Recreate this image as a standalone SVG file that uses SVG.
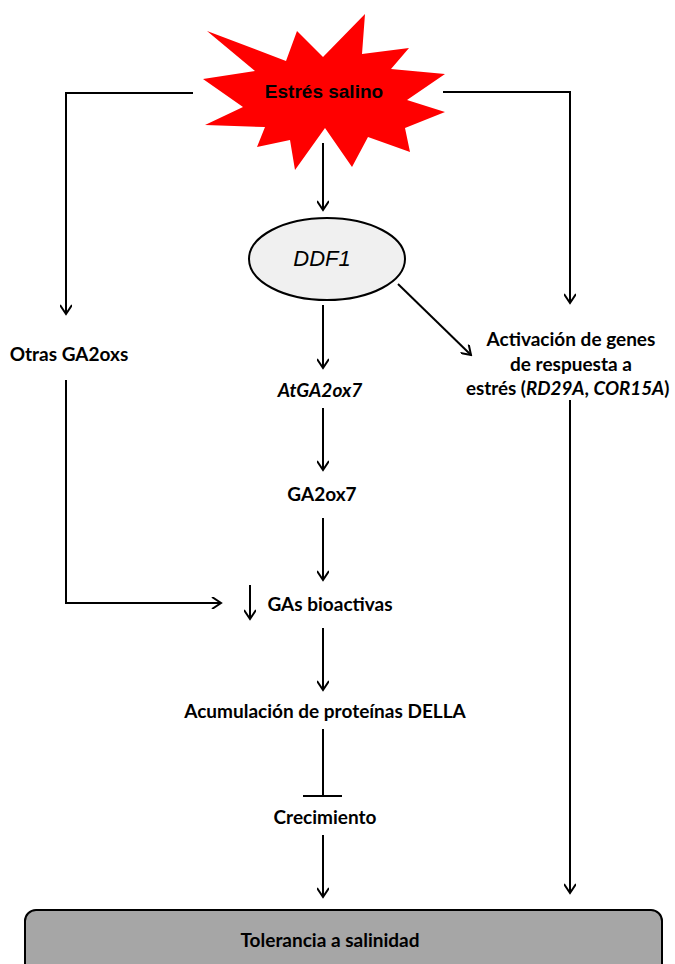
<svg xmlns="http://www.w3.org/2000/svg" width="675" height="964" viewBox="0 0 675 964">
<defs>
<marker id="arr" markerWidth="12" markerHeight="12" viewBox="-10 -6 12 12" refX="0" refY="0" orient="auto" markerUnits="userSpaceOnUse">
<path d="M-9,-6 L0,0 L-9,6" fill="none" stroke="#000" stroke-width="2"/>
</marker>
<style>
.c{fill:none;stroke:#000;stroke-width:2}
.t{font-family:Lato,"Open Sans",sans-serif;font-weight:bold;font-size:19px;fill:#000;text-anchor:middle}
.s{text-anchor:start;font-size:18.8px}
.i{font-style:italic}
</style>
</defs>
<rect width="675" height="964" fill="#fff"/>
<g id="estres">
<polygon fill="#ff0000" points="207,31 286,61 297,31 323,57 365,14 362,54 409,48 391,69 445,74 407,100 445,112 405,128 410,152 368,137 352,167 325,128 295,170 290,140 257,147 265,127 205,125 243,107 203,79 255,71"/>
<text x="324" y="98" style="font-family:'Liberation Sans',Arial,sans-serif;font-weight:bold;font-size:19px" text-anchor="middle">Estrés salino</text>
</g>
<g id="ddf1">
<ellipse cx="327" cy="259" rx="78" ry="41" fill="#f0f0f0" stroke="#000" stroke-width="2"/>
<text x="322" y="266" style="font-family:'Liberation Sans',Arial,sans-serif;font-style:italic;font-size:22px" text-anchor="middle">DDF1</text>
</g>
<g id="otras"><text class="t" x="69" y="361">Otras GA2oxs</text></g>
<g id="activacion">
<text class="t" x="571" y="346">Activación de genes</text>
<text class="t" x="571" y="371">de respuesta a</text>
<text class="t s" x="466" y="395">estrés (<tspan class="i">RD29A</tspan>, <tspan class="i">COR15A</tspan>)</text>
</g>
<g id="atga2ox7"><text class="t i" x="320" y="397">AtGA2ox7</text></g>
<g id="ga2ox7"><text class="t" x="322" y="501">GA2ox7</text></g>
<g id="gas">
<path class="c" d="M250,585 V619" marker-end="url(#arr)"/>
<text class="t" x="330" y="611">GAs bioactivas</text>
</g>
<g id="della"><text class="t" x="325" y="718">Acumulación de proteínas DELLA</text></g>
<g id="crecimiento"><text class="t" x="325" y="824">Crecimiento</text></g>
<g id="tolerancia">
<rect x="25" y="910" width="637" height="70" rx="11" fill="#a6a6a6" stroke="#000" stroke-width="2"/>
<text class="t" x="330" y="947">Tolerancia a salinidad</text>
</g>
<g id="connectors">
<path class="c" d="M193,93 H66 V314" marker-end="url(#arr)"/>
<path class="c" d="M443,92 H570 V303" marker-end="url(#arr)"/>
<path class="c" d="M323,143 V210" marker-end="url(#arr)"/>
<path class="c" d="M323,305 V368" marker-end="url(#arr)"/>
<path class="c" d="M398,284 L471,355" marker-end="url(#arr)"/>
<path class="c" d="M323,408 V470" marker-end="url(#arr)"/>
<path class="c" d="M323,518 V580" marker-end="url(#arr)"/>
<path class="c" d="M66,380 V603 H221" marker-end="url(#arr)"/>
<path class="c" d="M323,628 V690" marker-end="url(#arr)"/>
<path class="c" d="M323,729 V796 M303,796 H342"/>
<path class="c" d="M323,835 V897" marker-end="url(#arr)"/>
<path class="c" d="M570,400 V893" marker-end="url(#arr)"/>
</g>
</svg>
